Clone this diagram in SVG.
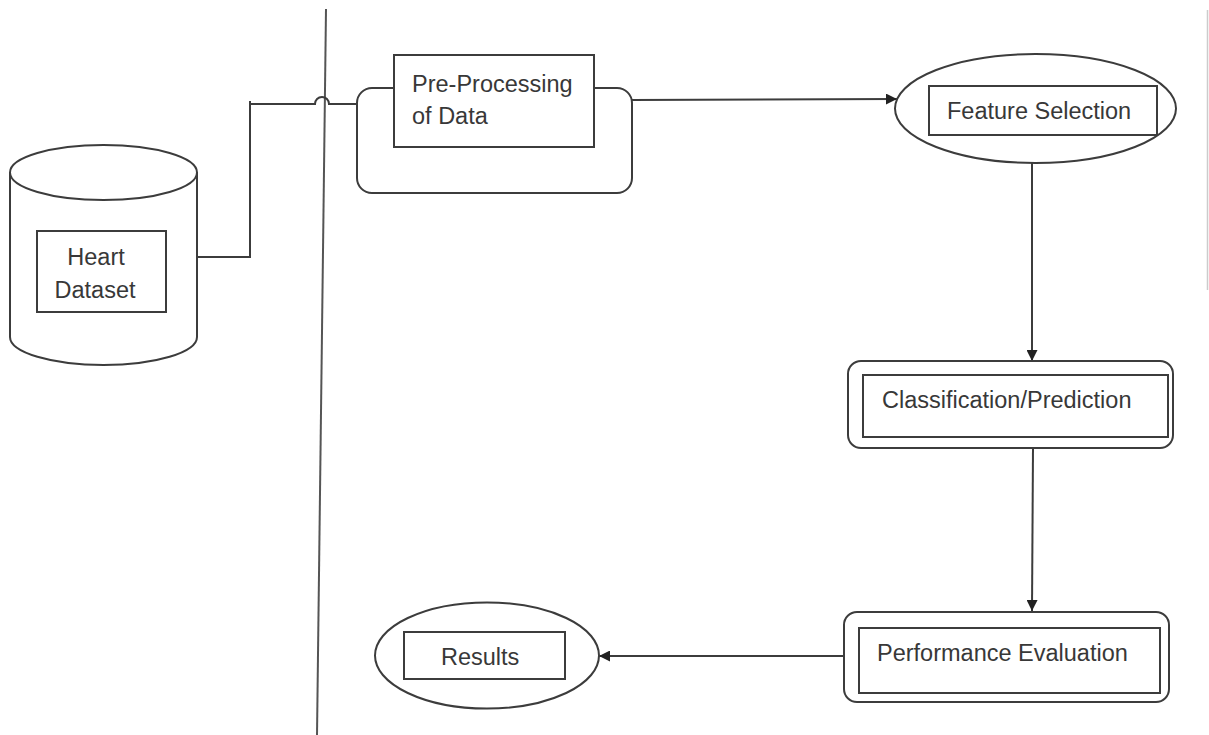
<svg xmlns="http://www.w3.org/2000/svg" width="1209" height="735" viewBox="0 0 1209 735">
  <defs>
    <style>
      .sh { fill: #fff; stroke: #3c3c3c; stroke-width: 2; }
      .ln { fill: none; stroke: #3c3c3c; stroke-width: 2; }
      .tx { font-family: "Liberation Sans", Arial, sans-serif; font-size: 23.5px; fill: #383838; }
      .c { text-anchor: middle; }
    </style>
    <marker id="arr" viewBox="0 0 10 10" refX="10" refY="5" markerWidth="11" markerHeight="11" markerUnits="userSpaceOnUse" orient="auto">
      <path d="M0,0 L10,5 L0,10 z" fill="#222"/>
    </marker>
  </defs>
  <rect width="1209" height="735" fill="#fff"/>

  <g id="connectors">
    <line x1="326" y1="9" x2="317" y2="735" stroke="#555" stroke-width="2"/>
    <line x1="1207.5" y1="10" x2="1207.5" y2="290" stroke="#ccc" stroke-width="1.5"/>
    <path class="ln" d="M197,257 H250 V104 H315 A7,7 0 0 1 329,104 H358"/>
    <line x1="250" y1="101" x2="250" y2="107" stroke="#3c3c3c" stroke-width="2"/>
    <path class="ln" d="M632,100 L897,99" marker-end="url(#arr)"/>
    <path class="ln" d="M1032,163 V361" marker-end="url(#arr)"/>
    <path class="ln" d="M1033,448 L1032,611" marker-end="url(#arr)"/>
    <path class="ln" d="M844,656 H599" marker-end="url(#arr)"/>
  </g>

  <g id="heart-dataset">
    <path class="sh" d="M10,172 V337 A93.5,28 0 0 0 197,337 V172"/>
    <ellipse class="sh" cx="103.5" cy="172.5" rx="93.5" ry="27.5"/>
    <rect class="sh" x="37" y="231" width="129" height="81"/>
    <text class="tx c" x="96" y="265">Heart</text>
    <text class="tx c" x="95" y="298">Dataset</text>
  </g>

  <g id="pre-processing">
    <rect class="sh" x="357" y="88" width="275" height="105" rx="15"/>
    <rect class="sh" x="394" y="55" width="200" height="92"/>
    <text class="tx" x="412" y="92">Pre-Processing</text>
    <text class="tx" x="412" y="124">of Data</text>
  </g>

  <g id="feature-selection">
    <ellipse class="sh" cx="1035.5" cy="108.5" rx="140.5" ry="54.5"/>
    <rect class="sh" x="929" y="86" width="228" height="49"/>
    <text class="tx" x="947" y="119">Feature Selection</text>
  </g>

  <g id="classification">
    <rect class="sh" x="848" y="361" width="325" height="87" rx="13"/>
    <rect class="sh" x="863" y="375" width="305" height="62"/>
    <text class="tx" x="882" y="408">Classification/Prediction</text>
  </g>

  <g id="performance">
    <rect class="sh" x="844" y="612" width="325" height="90" rx="13"/>
    <rect class="sh" x="859" y="628" width="301" height="65" stroke-width="2.5"/>
    <text class="tx" x="877" y="661">Performance Evaluation</text>
  </g>

  <g id="results">
    <ellipse class="sh" cx="487" cy="655.5" rx="112" ry="53"/>
    <rect class="sh" x="404" y="632" width="161" height="47"/>
    <text class="tx" x="441" y="665">Results</text>
  </g>
</svg>
